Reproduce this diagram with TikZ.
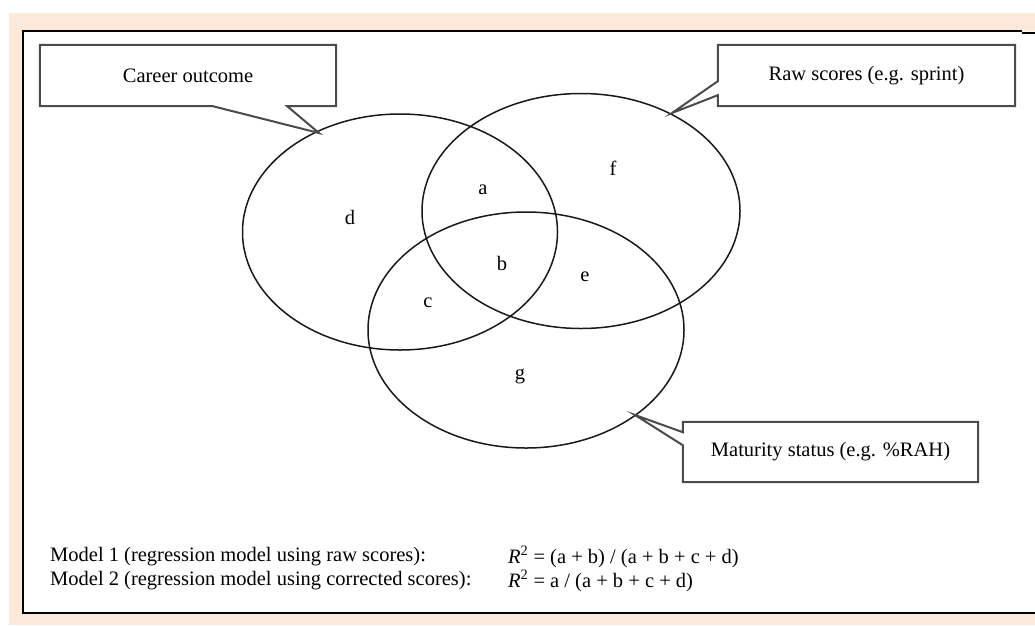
\documentclass[tikz,border=0pt]{standalone}
\usepackage{fontspec}
\setmainfont{Liberation Serif}
\usepackage{xcolor}
\usepackage{tikz}
\usetikzlibrary{positioning,shapes,calc}

\definecolor{peach}{RGB}{252,233,219}
\definecolor{boxgray}{RGB}{75,75,75}

\begin{document}
\begin{tikzpicture}[
    x=1pt, y=-1pt,
    txt/.style     = {font=\fontsize{20.5}{25}\selectfont, inner sep=0pt},
    venn/.style    = {ellipse, draw=black!90, line width=1.5pt, inner sep=0pt},
    callout/.style = {txt, rectangle, minimum width=296pt, minimum height=61pt},
    tag/.style     = {draw=boxgray, line width=2pt, line join=miter},
    region/.style  = {txt},
    model/.style   = {txt, anchor=west},
]
\useasboundingbox (0,0) rectangle (1035,625);

% =============================== frame ========================================
\fill[peach] (9,13) rectangle (1035,625);
\fill[white] (23,31) rectangle (1035,613);
\draw[line width=2pt] (1022,31) -- (23,31) -- (23,613) -- (1035,613);
\draw[line width=2pt] (1022,32.5) -- (1035,32.5);

% =============================== three sets ===================================
\node[venn, minimum width=315pt, minimum height=236pt] (career)   at (400,232) {};
\node[venn, minimum width=318pt, minimum height=235pt] (raw)      at (581,211) {};
\node[venn, minimum width=316pt, minimum height=236pt] (maturity) at (526,330) {};

% region letters
\node[region] (ra) at (483,190) {a};
\node[region] (rb) at (502,263) {b};
\node[region] (rc) at (428,303) {c};
\node[region] (rd) at (350,217) {d};
\node[region] (re) at (585,277) {e};
\node[region] (rf) at (613,168) {f};
\node[region] (rg) at (520,376) {g};

% =============================== callouts =====================================
\node[callout] (careerbox) at (188,75.5) {Career outcome};
\coordinate (careertip) at (319,133);
\draw[tag] (careerbox.north west) -- (careerbox.north east)
    -- (careerbox.south east) -- ([xshift=-49pt]careerbox.south east)
    -- (careertip) -- ([xshift=173pt]careerbox.south west)
    -- (careerbox.south west) -- cycle;

\node[callout, minimum width=297pt] (rawbox) at (866.5,75.5) {Raw scores (e.g. sprint)};
\coordinate (rawtip) at (672,113);
\draw[tag] (rawbox.north west) -- (rawbox.north east)
    -- (rawbox.south east) -- (rawbox.south west)
    -- ([yshift=11pt]rawbox.south west) -- (rawtip)
    -- ([yshift=25pt]rawbox.south west) -- cycle;

\node[callout, minimum width=295pt, minimum height=60pt] (matbox) at (830.5,452) {Maturity status (e.g. \%RAH)};
\coordinate (mattip) at (635,415);
\draw[tag] (matbox.north west) -- (matbox.north east)
    -- (matbox.south east) -- (matbox.south west)
    -- ([yshift=37pt]matbox.south west) -- (mattip)
    -- ([yshift=50pt]matbox.south west) -- cycle;

% =============================== models =======================================
\node[model] (m1)  at (50,557)  {Model 1 (regression model using raw scores):};
\node[model] (m2)  at (50,581)  {Model 2 (regression model using corrected scores):};
\node[model] (r1)  at (508,557) {\textit{R}\textsuperscript{2} = (a + b) / (a + b + c + d)};
\node[model] (r2)  at (508,581) {\textit{R}\textsuperscript{2} = a / (a + b + c + d)};

\end{tikzpicture}
\end{document}
